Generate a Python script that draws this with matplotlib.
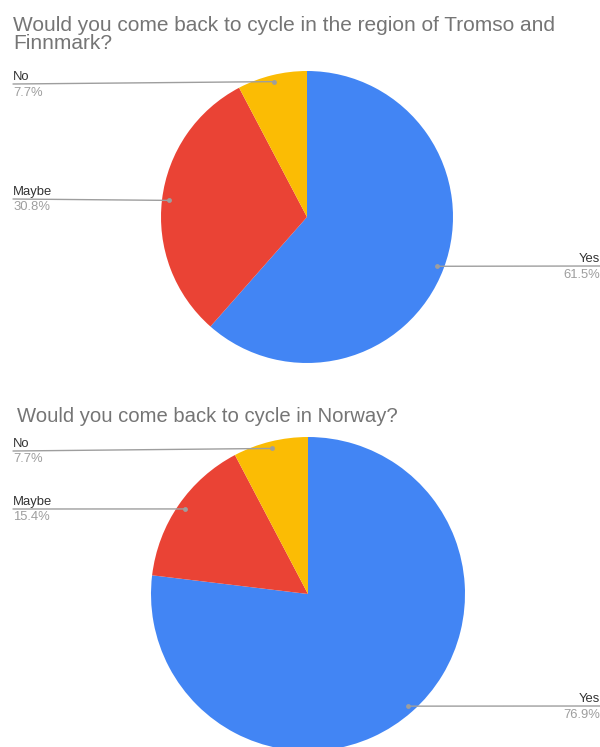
import numpy as np
import matplotlib.pyplot as plt

W, H = 600, 747

labels = ['Yes', 'Maybe', 'No']
region_values = [61.5, 30.8, 7.7]
norway_values = [76.9, 15.4, 7.7]
titles = ['Would you come back to cycle in the region of Tromso and\nFinnmark?',
          'Would you come back to cycle in Norway?']
colors = ['#4285F4', '#EA4335', '#FBBC04']

plt.rcParams['font.family'] = ['Liberation Sans', 'DejaVu Sans']

fig = plt.figure(figsize=(W / 100, H / 100), dpi=100)


def px(x, y):
    # image pixels (top-left origin) -> figure fraction
    return x / W, 1 - y / H


def draw_pie(values, cx, cy, r, title, title_xy, title_size, label_lines):
    ax = fig.add_axes([(cx - r) / W, 1 - (cy + r) / H, 2 * r / W, 2 * r / H])
    ax.pie(values, colors=colors, startangle=90, counterclock=False,
           radius=1, wedgeprops=dict(linewidth=0))
    ax.set_xlim(-1, 1)
    ax.set_ylim(-1, 1)
    ax.set_aspect('auto')
    ax.axis('off')

    fig.text(*px(*title_xy), title, fontsize=title_size, color='#757575',
             va='top', ha='left', linespacing=0.95)

    total = sum(values)
    start = 90.0
    for lab, v in zip(labels, values):
        span = 360.0 * v / total
        mid = np.radians(start - span / 2)
        start -= span
        dx, dy = 0.955 * np.cos(mid), 0.955 * np.sin(mid)
        lx, ly, side = label_lines[lab]
        ax.annotate('', xy=(dx, dy), xycoords='data',
                    xytext=(lx, H - ly), textcoords='figure pixels',
                    arrowprops=dict(arrowstyle='-', color='#9e9e9e', lw=1,
                                    shrinkA=0, shrinkB=0),
                    annotation_clip=False)
        ax.plot(dx, dy, 'o', color='#9e9e9e', ms=3.5, mec='none', clip_on=False)
        ha = 'left' if side == 'left' else 'right'
        fig.text(*px(lx, ly - 1.5), lab, fontsize=9.4, color='#333333',
                 ha=ha, va='bottom')
        fig.text(*px(lx, ly + 2.5), f'{v:.1f}%', fontsize=9.4, color='#9e9e9e',
                 ha=ha, va='top')


draw_pie(region_values, 307, 217, 146, titles[0], (13, 16), 15.0,
         {'Yes': (600, 266, 'right'), 'Maybe': (13, 199, 'left'), 'No': (13, 84, 'left')})
draw_pie(norway_values, 308, 594, 157, titles[1], (17, 407), 14.6,
         {'Yes': (600, 706, 'right'), 'Maybe': (13, 509, 'left'), 'No': (13, 451, 'left')})

fig.savefig('out.png', dpi=100)
